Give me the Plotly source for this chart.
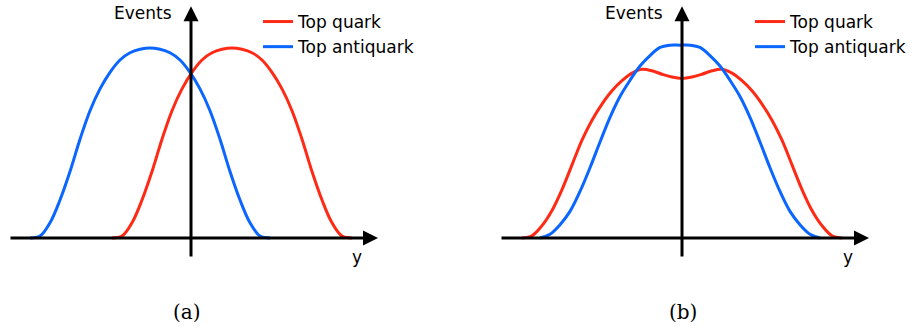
import plotly.graph_objects as go

# ---- Panel (a): asymmetric rapidity distributions ----
rap_a_quark = [-1.975, -1.725, -1.475, -1.225, -0.975, -0.725, -0.475, -0.225,
               0.025, 0.275, 0.525, 0.775, 1.025, 1.275, 1.525, 1.775, 2.025, 2.275,
               2.525, 2.775, 3.025, 3.275, 3.525, 3.775, 4.025]
evt_a_quark = [0.0, 0.01, 0.08, 0.2, 0.35, 0.52, 0.67, 0.785,
               0.872, 0.937, 0.975, 0.993, 1.0, 0.993, 0.975, 0.937, 0.872, 0.785,
               0.67, 0.52, 0.35, 0.2, 0.08, 0.01, 0.0]

rap_a_anti = [-4.025, -3.775, -3.525, -3.275, -3.025, -2.775, -2.525, -2.275,
              -2.025, -1.775, -1.525, -1.275, -1.025, -0.775, -0.525, -0.275, -0.025, 0.225,
              0.475, 0.725, 0.975, 1.225, 1.475, 1.725, 1.975]
evt_a_anti = [0.0, 0.01, 0.08, 0.2, 0.35, 0.52, 0.67, 0.785,
              0.872, 0.937, 0.975, 0.993, 1.0, 0.993, 0.975, 0.937, 0.872, 0.785,
              0.67, 0.52, 0.35, 0.2, 0.08, 0.01, 0.0]

# ---- Panel (b): symmetric distributions of different width ----
rap_b_quark = [-4.0, -3.75, -3.5, -3.25, -3.0, -2.75, -2.5, -2.25,
               -2.0, -1.75, -1.5, -1.25, -1.0, -0.75, -0.5, -0.25, 0.0, 0.25,
               0.5, 0.75, 1.0, 1.25, 1.5, 1.75, 2.0, 2.25, 2.5, 2.75,
               3.0, 3.25, 3.5, 3.75, 4.0]
evt_b_quark = [0.0, 0.012, 0.065, 0.145, 0.255, 0.385, 0.515, 0.62,
               0.705, 0.775, 0.828, 0.868, 0.888, 0.88, 0.862, 0.847, 0.84, 0.847,
               0.862, 0.88, 0.888, 0.868, 0.828, 0.775, 0.705, 0.62, 0.515, 0.385,
               0.255, 0.145, 0.065, 0.012, 0.0]

rap_b_anti = [-3.55, -3.3, -3.05, -2.8, -2.55, -2.3, -2.05, -1.8,
              -1.55, -1.3, -1.05, -0.8, -0.55, -0.3, -0.05, 0.2, 0.45, 0.7,
              0.95, 1.2, 1.45, 1.7, 1.95, 2.2, 2.45, 2.7, 2.95, 3.2, 3.45]
evt_b_anti = [0.0, 0.02, 0.07, 0.14, 0.245, 0.37, 0.505, 0.635,
              0.745, 0.83, 0.905, 0.96, 1.003, 1.015, 1.015, 1.015, 1.003, 0.96,
              0.905, 0.83, 0.745, 0.635, 0.505, 0.37, 0.245, 0.14, 0.07, 0.02, 0.0]

series_names = ["Top quark", "Top antiquark"]
panel_labels = ["(a)", "(b)"]
axis_labels = ["Events", "y"]

RED = "#FF2A15"
BLUE = "#0A66FF"
SANS = "DejaVu Sans"
SERIF = "DejaVu Serif"

W, H = 914, 329
fig = go.Figure()

panels = [
    ("x", "y", "legend", rap_a_quark, evt_a_quark, rap_a_anti, evt_a_anti),
    ("x2", "y2", "legend2", rap_b_quark, evt_b_quark, rap_b_anti, evt_b_anti),
]
for xa, ya, lg, xq, yq, xaq, yaq in panels:
    fig.add_trace(go.Scatter(x=xq, y=yq, mode="lines", name=series_names[0],
                             line=dict(color=RED, width=3, shape="spline", smoothing=1.0),
                             xaxis=xa, yaxis=ya, legend=lg, hoverinfo="skip"))
    fig.add_trace(go.Scatter(x=xaq, y=yaq, mode="lines", name=series_names[1],
                             line=dict(color=BLUE, width=3, shape="spline", smoothing=1.0),
                             xaxis=xa, yaxis=ya, legend=lg, hoverinfo="skip"))

hidden = dict(visible=False, showgrid=False, zeroline=False, fixedrange=True)
y_range = [-0.4789, 1.2526]
legend_style = dict(yanchor="top", xanchor="left",
                    font=dict(family=SANS, size=17, color="black"),
                    bgcolor="rgba(0,0,0,0)", itemwidth=30, tracegroupgap=0)
fig.update_layout(
    width=W, height=H, autosize=False,
    margin=dict(l=0, r=0, t=0, b=0, pad=0),
    paper_bgcolor="white", plot_bgcolor="white",
    xaxis=dict(domain=[0, 0.5], range=[-4.775, 6.65], **hidden),
    xaxis2=dict(domain=[0.5, 1], range=[-5.625, 5.8], **hidden),
    yaxis=dict(domain=[0, 1], range=y_range, **hidden),
    yaxis2=dict(domain=[0, 1], range=y_range, anchor="x2", **hidden),
    legend=dict(x=258 / W, y=1 - 4 / H, **legend_style),
    legend2=dict(x=750 / W, y=1 - 4 / H, **legend_style),
    showlegend=True,
)

annotations = []
for xr, yr, ylab_x, cap_x, cap in [("x", "y", -1.2, -0.1, panel_labels[0]),
                                   ("x2", "y2", -1.21, 0.025, panel_labels[1])]:
    # horizontal rapidity axis with arrow
    annotations.append(dict(x=4.675, y=0, ax=-4.55, ay=0, xref=xr, yref=yr, axref=xr, ayref=yr,
                            text="", showarrow=True, arrowhead=2, arrowsize=1,
                            arrowwidth=3, arrowcolor="black"))
    # vertical events axis with arrow
    annotations.append(dict(x=0, y=1.22, ax=0, ay=-0.105, xref=xr, yref=yr, axref=xr, ayref=yr,
                            text="", showarrow=True, arrowhead=2, arrowsize=1,
                            arrowwidth=3, arrowcolor="black"))
    annotations.append(dict(x=ylab_x, y=1.184, xref=xr, yref=yr, text=axis_labels[0],
                            showarrow=False, font=dict(family=SANS, size=17, color="black")))
    annotations.append(dict(x=4.15, y=-0.1, xref=xr, yref=yr, text=axis_labels[1],
                            showarrow=False, font=dict(family=SANS, size=17, color="black")))
    annotations.append(dict(x=cap_x, y=-0.389, xref=xr, yref=yr, text=cap,
                            showarrow=False, font=dict(family=SERIF, size=20, color="black")))
fig.update_layout(annotations=annotations)

fig.write_html("out.html")
